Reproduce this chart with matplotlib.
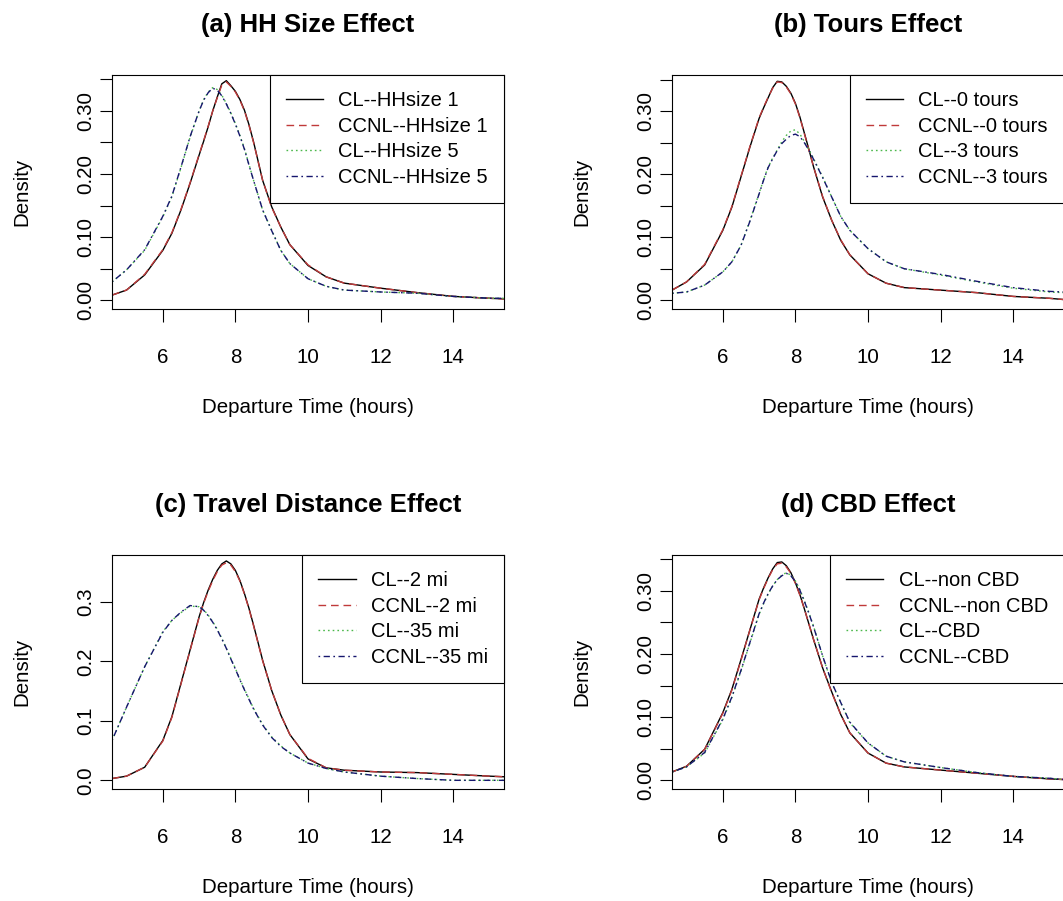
import matplotlib
matplotlib.use("Agg")
import matplotlib.pyplot as plt
from matplotlib import rcParams

# Set font properties
rcParams['font.family'] = ['Liberation Sans', 'DejaVu Sans']
rcParams['font.size'] = 14.8
rcParams['lines.scale_dashes'] = False

# Departure time grid (hours) the densities were read at
hours = [4.6, 5.0, 5.5, 6.0, 6.25, 6.5, 6.75, 7.0, 7.125, 7.25, 7.375, 7.5, 7.625, 7.75, 7.875, 8.0,
         8.125, 8.25, 8.375, 8.5, 8.75, 9.0, 9.25, 9.5, 10.0, 10.5, 11.0, 12.0, 13.0, 14.0, 15.0, 15.4]

# (a) HH size effect
cl_hh1 = [0.008, 0.016, 0.040, 0.079, 0.106, 0.143, 0.185, 0.230, 0.252, 0.275, 0.300, 0.322, 0.343, 0.348, 0.340, 0.331,
          0.318, 0.301, 0.278, 0.251, 0.190, 0.148, 0.116, 0.088, 0.055, 0.037, 0.027, 0.019, 0.012, 0.006, 0.003, 0.002]
ccnl_hh1 = [0.008, 0.016, 0.041, 0.080, 0.107, 0.144, 0.186, 0.231, 0.253, 0.276, 0.300, 0.321, 0.341, 0.346, 0.339, 0.330,
            0.317, 0.300, 0.277, 0.250, 0.190, 0.147, 0.116, 0.088, 0.056, 0.037, 0.027, 0.019, 0.012, 0.006, 0.003, 0.002]
cl_hh5 = [0.029, 0.048, 0.079, 0.132, 0.164, 0.210, 0.258, 0.300, 0.318, 0.330, 0.337, 0.334, 0.325, 0.312, 0.297, 0.280,
          0.261, 0.240, 0.215, 0.190, 0.143, 0.111, 0.079, 0.058, 0.034, 0.022, 0.016, 0.013, 0.011, 0.006, 0.003, 0.003]
ccnl_hh5 = [0.029, 0.048, 0.080, 0.133, 0.165, 0.211, 0.259, 0.300, 0.317, 0.329, 0.336, 0.333, 0.324, 0.311, 0.296, 0.279,
            0.260, 0.239, 0.214, 0.190, 0.143, 0.110, 0.079, 0.058, 0.034, 0.022, 0.016, 0.013, 0.011, 0.006, 0.003, 0.003]

# (b) tours effect
cl_t0 = [0.016, 0.029, 0.056, 0.111, 0.148, 0.196, 0.244, 0.289, 0.306, 0.322, 0.338, 0.348, 0.347, 0.340, 0.329, 0.313,
         0.291, 0.265, 0.239, 0.212, 0.164, 0.127, 0.095, 0.072, 0.042, 0.027, 0.020, 0.016, 0.012, 0.006, 0.003, 0.001]
ccnl_t0 = [0.016, 0.029, 0.057, 0.112, 0.149, 0.197, 0.245, 0.290, 0.307, 0.323, 0.337, 0.347, 0.346, 0.339, 0.328, 0.312,
           0.290, 0.264, 0.238, 0.212, 0.165, 0.127, 0.096, 0.072, 0.042, 0.027, 0.020, 0.016, 0.012, 0.006, 0.003, 0.001]
cl_t3 = [0.011, 0.013, 0.024, 0.045, 0.061, 0.087, 0.127, 0.170, 0.192, 0.212, 0.226, 0.239, 0.252, 0.262, 0.269, 0.271,
         0.264, 0.252, 0.239, 0.225, 0.196, 0.164, 0.133, 0.111, 0.082, 0.061, 0.050, 0.040, 0.029, 0.019, 0.013, 0.012]
ccnl_t3 = [0.011, 0.013, 0.024, 0.045, 0.061, 0.087, 0.126, 0.169, 0.191, 0.211, 0.225, 0.238, 0.249, 0.256, 0.262, 0.264,
           0.260, 0.250, 0.238, 0.224, 0.195, 0.164, 0.133, 0.111, 0.082, 0.061, 0.050, 0.041, 0.030, 0.020, 0.014, 0.013]

# (c) travel distance effect
cl_d2 = [0.003, 0.007, 0.022, 0.067, 0.107, 0.163, 0.219, 0.275, 0.299, 0.320, 0.338, 0.353, 0.364, 0.369, 0.364, 0.353,
         0.336, 0.314, 0.289, 0.261, 0.202, 0.151, 0.110, 0.077, 0.036, 0.021, 0.017, 0.014, 0.013, 0.010, 0.007, 0.006]
ccnl_d2 = [0.003, 0.007, 0.022, 0.066, 0.106, 0.162, 0.218, 0.274, 0.298, 0.318, 0.336, 0.351, 0.362, 0.366, 0.362, 0.351,
           0.335, 0.313, 0.288, 0.260, 0.201, 0.151, 0.110, 0.077, 0.037, 0.021, 0.017, 0.014, 0.013, 0.010, 0.007, 0.006]
cl_d35 = [0.067, 0.123, 0.191, 0.250, 0.269, 0.282, 0.293, 0.292, 0.287, 0.278, 0.267, 0.254, 0.239, 0.222, 0.205, 0.188,
          0.170, 0.153, 0.137, 0.121, 0.094, 0.073, 0.058, 0.046, 0.029, 0.020, 0.014, 0.007, 0.003, 0.000, 0.000, 0.000]
ccnl_d35 = [0.067, 0.123, 0.191, 0.249, 0.269, 0.283, 0.294, 0.292, 0.286, 0.277, 0.266, 0.253, 0.238, 0.222, 0.204, 0.187,
            0.169, 0.152, 0.136, 0.120, 0.093, 0.072, 0.057, 0.046, 0.029, 0.020, 0.014, 0.007, 0.003, 0.000, 0.000, 0.000]

# (d) CBD effect
cl_noncbd = [0.013, 0.022, 0.049, 0.107, 0.144, 0.191, 0.239, 0.287, 0.305, 0.321, 0.335, 0.345, 0.346, 0.340, 0.329, 0.313,
             0.294, 0.271, 0.247, 0.223, 0.178, 0.140, 0.104, 0.075, 0.043, 0.027, 0.021, 0.016, 0.011, 0.006, 0.002, 0.001]
ccnl_noncbd = [0.013, 0.022, 0.049, 0.106, 0.143, 0.190, 0.239, 0.286, 0.304, 0.320, 0.334, 0.343, 0.344, 0.338, 0.328, 0.312,
               0.293, 0.271, 0.247, 0.223, 0.178, 0.139, 0.104, 0.075, 0.043, 0.027, 0.021, 0.016, 0.011, 0.006, 0.002, 0.001]
cl_cbd = [0.013, 0.021, 0.043, 0.096, 0.131, 0.173, 0.218, 0.263, 0.280, 0.295, 0.308, 0.318, 0.325, 0.329, 0.325, 0.316,
          0.302, 0.284, 0.265, 0.244, 0.197, 0.154, 0.123, 0.091, 0.059, 0.038, 0.029, 0.020, 0.012, 0.006, 0.003, 0.001]
ccnl_cbd = [0.013, 0.021, 0.044, 0.097, 0.132, 0.174, 0.219, 0.264, 0.281, 0.296, 0.308, 0.318, 0.324, 0.328, 0.324, 0.315,
            0.301, 0.283, 0.264, 0.243, 0.197, 0.155, 0.123, 0.092, 0.059, 0.038, 0.029, 0.020, 0.012, 0.006, 0.003, 0.001]

titles = ["(a) HH Size Effect", "(b) Tours Effect", "(c) Travel Distance Effect", "(d) CBD Effect"]
legend_labels = [
    ["CL--HHsize 1", "CCNL--HHsize 1", "CL--HHsize 5", "CCNL--HHsize 5"],
    ["CL--0 tours", "CCNL--0 tours", "CL--3 tours", "CCNL--3 tours"],
    ["CL--2 mi", "CCNL--2 mi", "CL--35 mi", "CCNL--35 mi"],
    ["CL--non CBD", "CCNL--non CBD", "CL--CBD", "CCNL--CBD"],
]
panel_series = [
    [cl_hh1, ccnl_hh1, cl_hh5, ccnl_hh5],
    [cl_t0, ccnl_t0, cl_t3, ccnl_t3],
    [cl_d2, ccnl_d2, cl_d35, ccnl_d35],
    [cl_noncbd, ccnl_noncbd, cl_cbd, ccnl_cbd],
]

# R style lty 1..4 with col 1..4
colors = ['black', '#c03a3a', '#4cb84c', '#16166e']
styles = ['-', (0, (5.5, 3.5)), (0, (1.2, 2.2)), (0, (1.2, 2.5, 4.5, 2.5))]

W, H = 1063, 901
ax_w, ax_h = 392, 234
lefts = [112, 672, 112, 672]
bottoms = [309, 309, 789, 789]
ylims = [(-0.014, 0.357), (-0.014, 0.358), (-0.0146, 0.379), (-0.014, 0.357)]

fig = plt.figure(figsize=(W / 100, H / 100), dpi=100)

for i in range(4):
    ax = fig.add_axes([lefts[i] / W, 1 - bottoms[i] / H, ax_w / W, ax_h / H])
    for series, lab, col, ls in zip(panel_series[i], legend_labels[i], colors, styles):
        ax.plot(hours, series, color=col, linestyle=ls, linewidth=1.0, label=lab)

    ax.set_xlim(4.6, 15.4)
    ax.set_ylim(*ylims[i])
    ax.set_xticks([6, 8, 10, 12, 14])
    if i == 2:
        ax.set_yticks([0.0, 0.1, 0.2, 0.3], ["0.0", "0.1", "0.2", "0.3"], rotation=90, va='center')
    else:
        yt = [0.0, 0.05, 0.10, 0.15, 0.20, 0.25, 0.30, 0.35]
        ylab = ["0.00", "", "0.10", "", "0.20", "", "0.30", ""]
        ax.set_yticks(yt, ylab, rotation=90, va='center')
    ax.tick_params(axis='x', direction='out', length=9, width=0.8, pad=19)
    ax.tick_params(axis='y', direction='out', length=9, width=0.8, pad=3)
    for sp in ax.spines.values():
        sp.set_linewidth(0.8)

    ax.set_xlabel('Departure Time (hours)')
    ax.xaxis.set_label_coords(0.5, -0.42)
    ax.xaxis.label.set_va('center')
    ax.set_ylabel('Density')
    ax.yaxis.set_label_coords(-0.23, 0.5)
    ax.yaxis.label.set_va('center')

    ax.text(0.5, 1.215, titles[i], transform=ax.transAxes, ha='center', va='center',
            fontsize=18.5, fontweight='bold')

    leg = ax.legend(loc='upper right', bbox_to_anchor=(1, 1), borderaxespad=0,
                    fancybox=False, edgecolor='black', framealpha=1, fontsize=14.5,
                    handlelength=1.85, handletextpad=0.75, borderpad=0.8, labelspacing=0.33)
    leg.get_frame().set_linewidth(0.8)

plt.savefig('out.png', dpi=100)
